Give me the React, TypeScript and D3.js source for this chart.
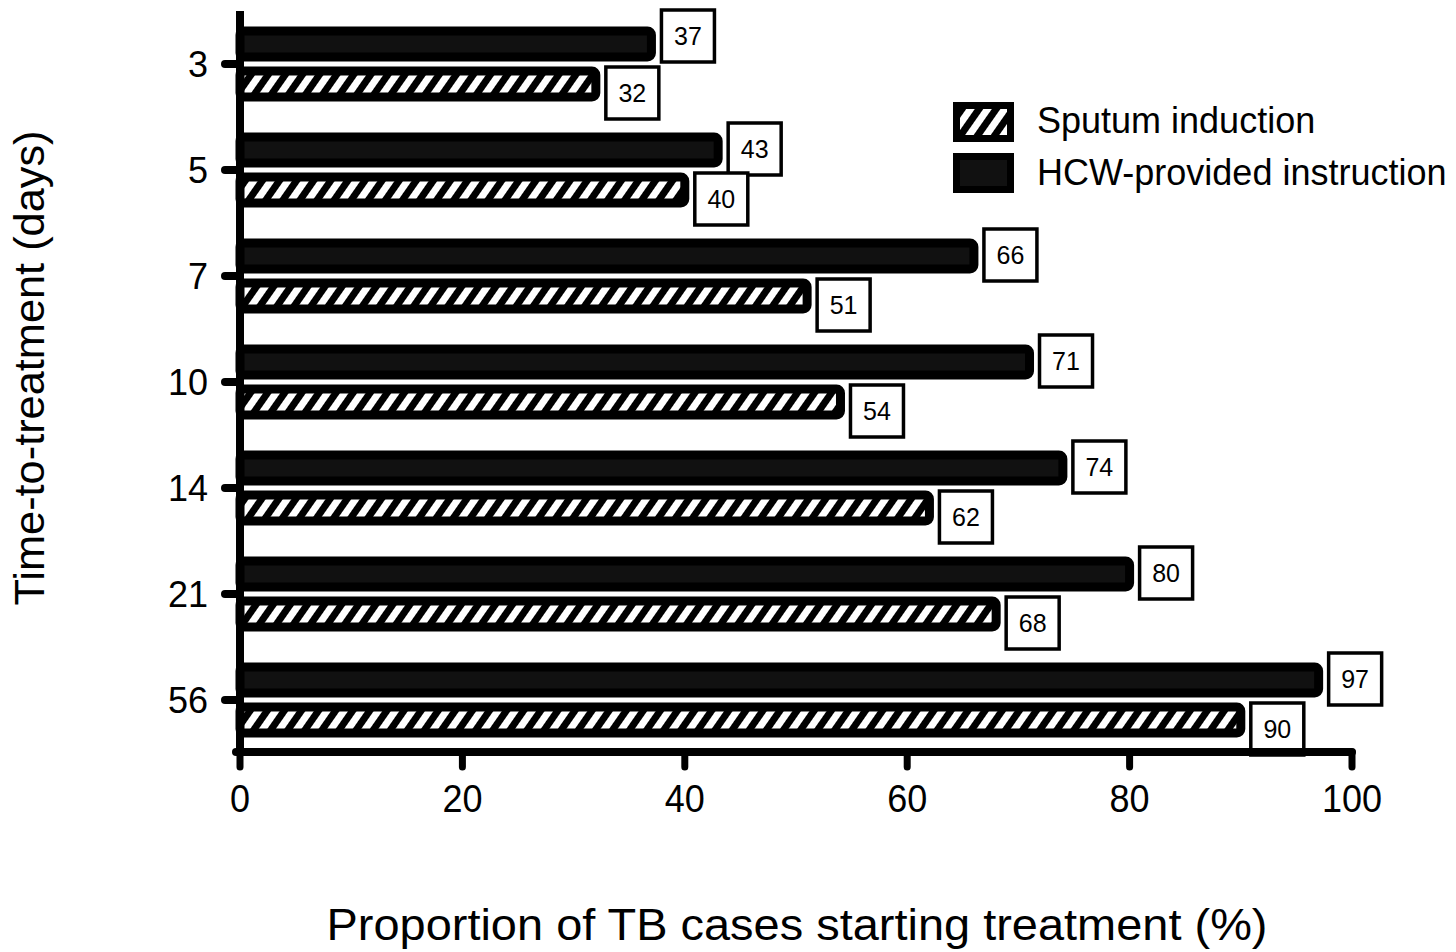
import React from 'react';
import * as d3 from 'd3';

const categories = ['3', '5', '7', '10', '14', '21', '56'];
const sputumInduction = [32, 40, 51, 54, 62, 68, 90];
const hcwInstruction = [37, 43, 66, 71, 74, 80, 97];
const xTicks = [0, 20, 40, 60, 80, 100];
const seriesNames = ['Sputum induction', 'HCW-provided instruction'];

const FONT = '"Liberation Sans", Arial, Helvetica, sans-serif';
const W = 1456;
const H = 952;

const x = d3.scaleLinear().domain([0, 100]).range([240, 1352]);
const y = d3.scaleBand().domain(categories).range([11, 753]).padding(0);

const BAR_H = 26;
const BAR_OFF = 20;
const BOX_W = 53;
const BOX_H = 52;

const ValueBox = ({ x0, cy, value }) => (
  <g>
    <rect
      x={x0}
      y={cy - BOX_H / 2}
      width={BOX_W}
      height={BOX_H}
      fill="#fff"
      stroke="#000"
      strokeWidth={3.5}
    />
    <text
      x={x0 + BOX_W / 2}
      y={cy + 9}
      textAnchor="middle"
      fontSize={25}
      fontFamily={FONT}
    >
      {value}
    </text>
  </g>
);

export default function App() {
  const center = (c) => y(c) + y.bandwidth() / 2;

  return (
    <svg width={W} height={H} style={{ position: 'absolute', left: 0, top: 0 }}>
      <defs>
        <pattern
          id="hatch"
          patternUnits="userSpaceOnUse"
          width={14}
          height={14}
          patternTransform="rotate(35)"
        >
          <rect width={14} height={14} fill="#000" />
          <rect x={0} width={7} height={14} fill="#fff" />
        </pattern>
      </defs>
      <rect width={W} height={H} fill="#fff" />

      {/* bars */}
      {categories.map((c, i) => {
        const cy = center(c);
        const hv = hcwInstruction[i];
        const sv = sputumInduction[i];
        return (
          <g key={c}>
            <rect
              x={x(0)}
              y={cy - BAR_OFF - BAR_H / 2}
              width={x(hv) - x(0)}
              height={BAR_H}
              rx={4}
              fill="#111"
              stroke="#000"
              strokeWidth={9}
            />
            <rect
              x={x(0)}
              y={cy + BAR_OFF - BAR_H / 2}
              width={x(sv) - x(0)}
              height={BAR_H}
              rx={4}
              fill="url(#hatch)"
              stroke="#000"
              strokeWidth={9}
            />
          </g>
        );
      })}

      {/* value labels */}
      {categories.map((c, i) => {
        const cy = center(c);
        const upShift = i === 0 ? -8 : -1;
        return (
          <g key={'lab' + c}>
            <ValueBox x0={x(hcwInstruction[i]) + 10} cy={cy - BAR_OFF + upShift} value={hcwInstruction[i]} />
            <ValueBox x0={x(sputumInduction[i]) + 10} cy={cy + BAR_OFF + 9} value={sputumInduction[i]} />
          </g>
        );
      })}

      {/* axes */}
      <line x1={x(0)} x2={x(0)} y1={11} y2={756} stroke="#000" strokeWidth={8} />
      <line x1={x(0) - 4} x2={x(100)} y1={752} y2={752} stroke="#000" strokeWidth={8} strokeLinecap="round" />
      {xTicks.map((t) => (
        <g key={'xt' + t}>
          <line x1={x(t)} x2={x(t)} y1={752} y2={767} stroke="#000" strokeWidth={7} strokeLinecap="round" />
          <text
            transform={`translate(${x(t)},812) scale(1,1.1)`}
            textAnchor="middle"
            fontSize={36}
            fontFamily={FONT}
          >
            {t}
          </text>
        </g>
      ))}
      {categories.map((c) => (
        <g key={'yt' + c}>
          <line x1={225} x2={240} y1={center(c)} y2={center(c)} stroke="#000" strokeWidth={8} strokeLinecap="round" />
          <text x={208} y={center(c) + 13} textAnchor="end" fontSize={36} fontFamily={FONT}>
            {c}
          </text>
        </g>
      ))}

      {/* axis titles */}
      <text
        x={797}
        y={940}
        textAnchor="middle"
        fontSize={44}
        fontFamily={FONT}
        textLength={941}
        lengthAdjust="spacingAndGlyphs"
      >
        Proportion of TB cases starting treatment (%)
      </text>
      <text
        transform="translate(44,368) rotate(-90)"
        textAnchor="middle"
        fontSize={42}
        fontFamily={FONT}
        textLength={475}
        lengthAdjust="spacingAndGlyphs"
      >
        Time-to-treatment (days)
      </text>

      {/* legend */}
      <rect x={956.5} y={105.5} width={54} height={33} fill="url(#hatch)" stroke="#000" strokeWidth={7} />
      <text x={1037} y={133} fontSize={36} fontFamily={FONT}>
        {seriesNames[0]}
      </text>
      <rect x={956.5} y={156.5} width={54} height={33} fill="#111" stroke="#000" strokeWidth={7} />
      <text x={1037} y={185} fontSize={36} fontFamily={FONT}>
        {seriesNames[1]}
      </text>
    </svg>
  );
}
